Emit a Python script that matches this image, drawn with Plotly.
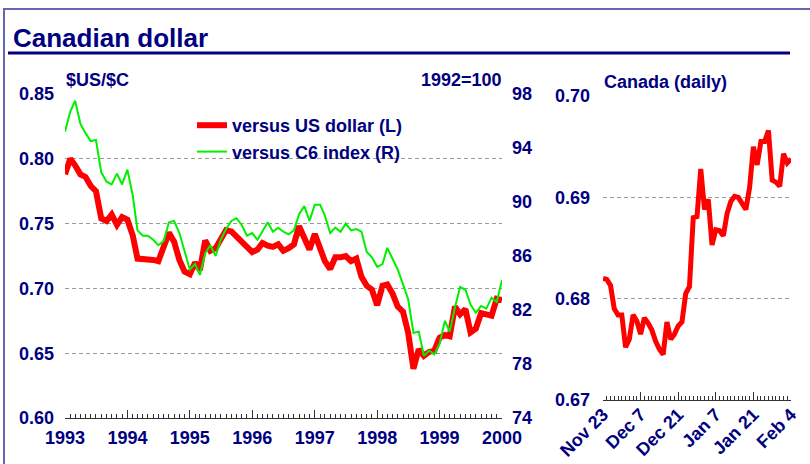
import pandas as pd
import plotly.graph_objects as go

W, H = 810, 464

# ---------------- data ----------------
months = pd.date_range("1993-01-01", "2000-01-01", freq="MS")

usd = [0.788, 0.800, 0.795, 0.788, 0.786, 0.779, 0.775, 0.754, 0.752, 0.757,
       0.749, 0.755, 0.753, 0.741, 0.723, 0.723, 0.723, 0.722, 0.721, 0.733,
       0.743, 0.736, 0.722, 0.713, 0.711, 0.720, 0.714, 0.737, 0.729, 0.731,
       0.738, 0.745, 0.744, 0.740, 0.735, 0.732, 0.728, 0.730, 0.735, 0.733,
       0.732, 0.734, 0.729, 0.731, 0.734, 0.748, 0.738, 0.730, 0.742, 0.730,
       0.721, 0.715, 0.724, 0.724, 0.725, 0.721, 0.723, 0.709, 0.702, 0.699,
       0.687, 0.702, 0.703, 0.696, 0.686, 0.682, 0.666, 0.638, 0.653, 0.648,
       0.651, 0.652, 0.662, 0.664, 0.663, 0.686, 0.680, 0.684, 0.666, 0.669,
       0.681, 0.680, 0.679, 0.692, 0.691]

c6 = [95.2, 96.7, 97.5, 95.8, 95.1, 94.5, 94.6, 92.2, 91.5, 91.3,
      92.1, 91.3, 92.4, 90.5, 87.9, 87.5, 87.5, 87.2, 86.8, 87.1,
      88.5, 88.6, 87.7, 86.3, 85.0, 85.4, 84.6, 86.2, 86.8, 86.0,
      87.2, 88.0, 88.6, 88.8, 88.3, 87.5, 87.7, 87.2, 87.8, 88.5,
      87.8, 88.1, 87.8, 87.6, 87.9, 89.1, 89.7, 88.6, 89.8, 89.8,
      89.0, 87.7, 88.1, 87.8, 88.4, 87.9, 88.0, 87.8, 86.3, 85.9,
      85.2, 85.4, 86.6, 85.8, 85.0, 83.9, 82.8, 80.3, 80.4, 78.6,
      79.0, 78.7, 79.5, 81.2, 80.4, 82.2, 83.7, 83.5, 82.4, 81.8,
      82.3, 82.1, 82.9, 82.6, 84.2]

holidays = ["1999-12-27", "1999-12-28", "2000-01-03"]
days = [d for d in pd.bdate_range("1999-11-23", "2000-02-04")
        if d.strftime("%Y-%m-%d") not in holidays]
day_idx = list(range(len(days)))

daily = [0.6820, 0.6819, 0.6813, 0.6790, 0.6784, 0.6784, 0.6752, 0.6760, 0.6784, 0.6778,
         0.6765, 0.6781, 0.6776, 0.6769, 0.6758, 0.6750, 0.6745, 0.6777, 0.6760, 0.6765,
         0.6773, 0.6777, 0.6805, 0.6812, 0.6880, 0.6881, 0.6928, 0.6888, 0.6898, 0.6853,
         0.6868, 0.6867, 0.6862, 0.6884, 0.6896, 0.6901, 0.6900, 0.6895, 0.6888, 0.6910,
         0.6950, 0.6932, 0.6955, 0.6955, 0.6966, 0.6917, 0.6915, 0.6911, 0.6943, 0.6934,
         0.6938]

daily_tick_labels = ["Nov 23", "Dec 7", "Dec 21", "Jan 7", "Jan 21", "Feb 4"]
label_of = {d: d.strftime("%b ") + str(d.day) for d in days}
daily_tickvals = [i for i, d in enumerate(days) if label_of[d] in daily_tick_labels]
daily_ticktext = [label_of[days[i]] for i in daily_tickvals]

left_ticks = [0.60, 0.65, 0.70, 0.75, 0.80, 0.85]
right_ticks = [74, 78, 82, 86, 90, 94, 98]
daily_ticks = [0.67, 0.68, 0.69, 0.70]

# ---------------- style ----------------
NAVY = "#000080"
FONT = "Liberation Sans, Arial, sans-serif"
TICK = dict(family=FONT, size=18, color=NAVY, weight="bold")
AXC = "#333333"
GRID = "#9a9a9a"
DASH = "4px,3px"


def px_x(p):
    return p / W


def px_y(p):
    return 1 - p / H


fig = go.Figure()

fig.add_trace(go.Scatter(x=months, y=usd, mode="lines", name="versus US dollar (L)",
                         line=dict(color="#ff0000", width=6), xaxis="x", yaxis="y"))
fig.add_trace(go.Scatter(x=months, y=c6, mode="lines", name="versus C6 index (R)",
                         line=dict(color="#00f000", width=2), xaxis="x", yaxis="y2"))
fig.add_trace(go.Scatter(x=day_idx, y=daily, mode="lines", name="Canada (daily)",
                         showlegend=False,
                         line=dict(color="#ff0000", width=5), xaxis="x3", yaxis="y3"))

fig.update_layout(
    width=W, height=H,
    margin=dict(l=0, r=0, t=0, b=0, pad=0, autoexpand=False),
    paper_bgcolor="white", plot_bgcolor="white",
    font=dict(family=FONT, color=NAVY),
    xaxis=dict(
        domain=[px_x(65), px_x(502)], anchor="y", type="date",
        range=["1993-01-01", "2000-01-01"],
        tick0="1993-01-01", dtick="M12", tickformat="%Y",
        ticks="inside", ticklen=8, tickcolor=AXC, tickwidth=1,
        showline=True, linecolor=AXC, linewidth=1,
        showgrid=False, zeroline=False, automargin=False,
        tickfont=TICK, ticklabelstandoff=3,
        minor=dict(dtick="M1", ticks="inside", ticklen=4, tickcolor=AXC, showgrid=False),
    ),
    yaxis=dict(
        domain=[px_y(418), px_y(94)], anchor="x",
        range=[0.60, 0.85], tickvals=left_ticks, tickformat=".2f",
        showgrid=True, gridcolor=GRID, griddash=DASH, gridwidth=1,
        showline=False, zeroline=False, ticks="", automargin=False,
        tickfont=TICK, ticklabelstandoff=10,
    ),
    yaxis2=dict(
        overlaying="y", side="right", anchor="x",
        range=[74, 98], tickvals=right_ticks,
        showgrid=False, showline=False, zeroline=False, ticks="", automargin=False,
        tickfont=TICK, ticklabelstandoff=9,
    ),
    xaxis3=dict(
        domain=[px_x(603), px_x(791)], anchor="y3",
        range=[0, 50], tickvals=daily_tickvals, ticktext=daily_ticktext,
        tickangle=-45,
        ticks="inside", ticklen=8, tickcolor=AXC, tickwidth=1,
        showline=True, linecolor=AXC, linewidth=1,
        showgrid=False, zeroline=False, automargin=False,
        tickfont=TICK, ticklabelstandoff=-4,
        minor=dict(dtick=1, tick0=0, ticks="inside", ticklen=4, tickcolor=AXC, showgrid=False),
    ),
    yaxis3=dict(
        domain=[px_y(400), px_y(96)], anchor="x3",
        range=[0.67, 0.70], tickvals=daily_ticks, tickformat=".2f",
        showgrid=True, gridcolor=GRID, griddash=DASH, gridwidth=1,
        showline=False, zeroline=False, ticks="", automargin=False,
        tickfont=TICK, ticklabelstandoff=12,
    ),
    legend=dict(
        x=px_x(192), y=px_y(107), xanchor="left", yanchor="top",
        bgcolor="rgba(0,0,0,0)", borderwidth=0,
        font=dict(family=FONT, size=18, color=NAVY, weight="bold"),
        itemwidth=30, tracegroupgap=3,
    ),
    shapes=[
        dict(type="rect", xref="paper", yref="paper",
             x0=px_x(4), x1=px_x(830), y0=px_y(9), y1=px_y(480),
             line=dict(color="#6666b0", width=2), fillcolor="rgba(0,0,0,0)", layer="below"),
        dict(type="line", xref="paper", yref="paper",
             x0=px_x(8), x1=px_x(790), y0=px_y(53), y1=px_y(53),
             line=dict(color=NAVY, width=3)),
    ],
    annotations=[
        dict(text="Canadian dollar", xref="paper", yref="paper",
             x=px_x(11), y=px_y(38), xanchor="left", yanchor="middle", showarrow=False,
             font=dict(family=FONT, size=26, color=NAVY, weight="bold")),
        dict(text="$US/$C", xref="paper", yref="paper",
             x=px_x(64), y=px_y(80), xanchor="left", yanchor="middle", showarrow=False,
             font=dict(family=FONT, size=18, color=NAVY, weight="bold")),
        dict(text="1992=100", xref="paper", yref="paper",
             x=px_x(504), y=px_y(80), xanchor="right", yanchor="middle", showarrow=False,
             font=dict(family=FONT, size=18, color=NAVY, weight="bold")),
        dict(text="Canada (daily)", xref="paper", yref="paper",
             x=px_x(602), y=px_y(82), xanchor="left", yanchor="middle", showarrow=False,
             font=dict(family=FONT, size=18, color=NAVY, weight="bold")),
    ],
)

fig.write_html(
    "out.html",
    config={"displayModeBar": False},
    post_script="document.body.style.margin='0px';document.body.style.padding='0px';",
)
